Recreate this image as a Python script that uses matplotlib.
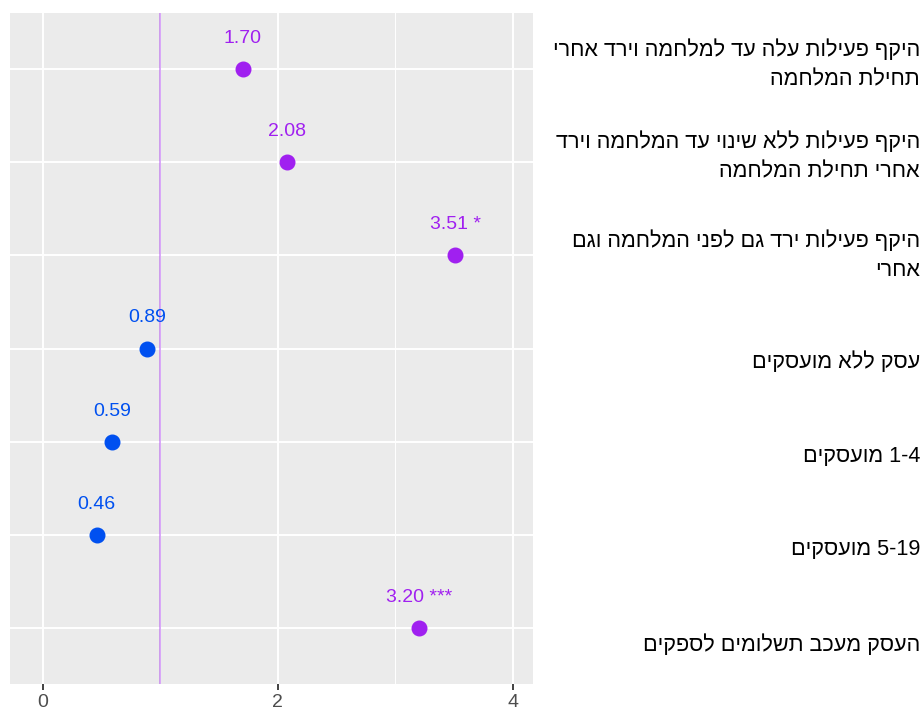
import re
import matplotlib
matplotlib.use("Agg")
import matplotlib.pyplot as plt

plt.rcParams['font.family'] = ['Liberation Sans', 'DejaVu Sans']

# row labels (logical Hebrew order), top to bottom
categories = [
    "היקף פעילות עלה עד למלחמה וירד אחרי\nתחילת המלחמה",
    "היקף פעילות ללא שינוי עד המלחמה וירד\nאחרי תחילת המלחמה",
    "היקף פעילות ירד גם לפני המלחמה וגם\nאחרי",
    "עסק ללא מועסקים",
    "1-4 מועסקים",
    "5-19 מועסקים",
    "העסק מעכב תשלומים לספקים",
]
values = [1.70, 2.08, 3.51, 0.89, 0.59, 0.46, 3.20]
stars = ["", "", "*", "", "", "", "***"]
groups = ["p", "p", "p", "b", "b", "b", "p"]
ref_value = 1.0
x_ticks = [0, 2, 4]

colors = {"p": "#A020F0", "b": "#0050F0"}
# vertical nudge of the right-hand labels (pixels, + is down)
label_dy = [-4, -5, 0, 14, 15, 15, 17]


def visual(s):
    # matplotlib has no bidi: reverse each line, keep digit runs LTR
    out = []
    for line in s.split("\n"):
        r = line[::-1]
        r = re.sub(r"[0-9][0-9.\-]*", lambda m: m.group(0)[::-1], r)
        out.append(r)
    return "\n".join(out)


W, H = 924, 713
fig = plt.figure(figsize=(W / 100, H / 100), dpi=100)
ax = fig.add_axes([10 / W, (H - 684) / H, (533 - 10) / W, (684 - 13) / H])
ax.set_facecolor("#EBEBEB")

rows = list(range(len(values)))
ax.set_xlim(-0.278, 4.17)
ax.set_ylim(len(values) - 0.4, -0.6)

ax.set_xticks(x_ticks)
ax.set_xticks([1, 3], minor=True)
ax.set_yticks(rows)
ax.set_yticklabels([])
ax.grid(which="major", color="white", linewidth=1.4)
ax.grid(which="minor", axis="x", color="white", linewidth=0.7)
ax.set_axisbelow(True)
for sp in ax.spines.values():
    sp.set_visible(False)
ax.tick_params(axis="x", which="major", length=4, width=1.3, color="#333333",
               labelsize=14, labelcolor="#4D4D4D", pad=3)
ax.tick_params(axis="x", which="minor", length=0)
ax.tick_params(axis="y", length=0)

ax.axvline(ref_value, color="#A020F0", alpha=0.5, linewidth=1.1, zorder=1)

for r, v, s, g in zip(rows, values, stars, groups):
    c = colors[g]
    ax.plot(v, r, "o", color=c, markersize=10.5, zorder=3)
    txt = f"{v:.2f}" + (f" {s}" if s else "")
    ax.annotate(txt, xy=(v, r), xytext=(0, 22), textcoords="offset points",
                ha="center", va="center", color=c, fontsize=14)

for r, lab, dy in zip(rows, categories, label_dy):
    ax.annotate(visual(lab), xy=(1, r), xycoords=ax.get_yaxis_transform(),
                xytext=((920 - 533) * 0.72, -dy * 0.72), textcoords="offset points",
                ha="right", va="center", multialignment="right",
                fontsize=15.6, color="black", linespacing=1.5)

fig.savefig("out.png", dpi=100)
